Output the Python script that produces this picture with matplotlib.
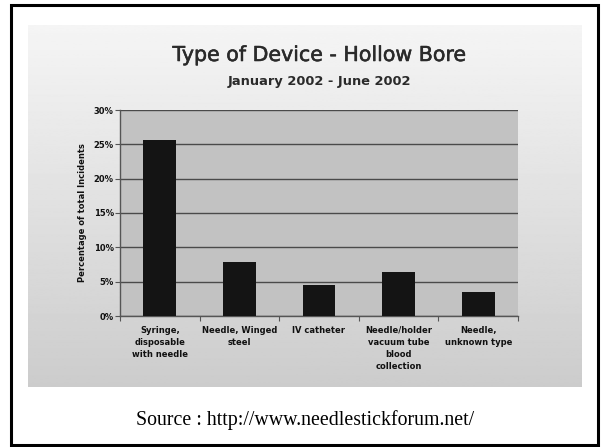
import numpy as np
import matplotlib
matplotlib.use("Agg")
import matplotlib.pyplot as plt
import matplotlib.patheffects as pe
from matplotlib.patches import Rectangle
from matplotlib.ticker import FixedLocator, FuncFormatter

categories = ["Syringe,\ndisposable\nwith needle", "Needle, Winged\nsteel", "IV catheter",
              "Needle/holder\nvacuum tube\nblood\ncollection", "Needle,\nunknown type"]
values = [25.7, 7.9, 4.5, 6.45, 3.45]
yticks = [0, 5, 10, 15, 20, 25, 30]

title = "Type of Device - Hollow Bore"
subtitle = "January 2002 - June 2002"
ylabel = "Percentage of total Incidents"
source = "Source : http://www.needlestickforum.net/"

plt.rcParams['font.family'] = ['DejaVu Sans']

W, H = 603, 447
fig = plt.figure(figsize=(W / 100, H / 100), dpi=100)
fig.patch.set_facecolor("white")

# gradient panel
px0, py0, px1, py1 = 28, 25, 582, 387
bg = fig.add_axes([px0 / W, 1 - py1 / H, (px1 - px0) / W, (py1 - py0) / H])
grad = np.linspace(0.96, 0.80, 256).reshape(-1, 1)
bg.imshow(grad, cmap="gray", vmin=0, vmax=1, aspect="auto", extent=[0, 1, 0, 1])
bg.set_axis_off()

# plot area
ax0, ay0, ax1, ay1 = 120, 110, 518, 316
ax = fig.add_axes([ax0 / W, 1 - ay1 / H, (ax1 - ax0) / W, (ay1 - ay0) / H])
ax.set_facecolor("#c2c2c2")
x = np.arange(len(categories))
ax.bar(x, values, width=0.41, color="#141414", zorder=3)
ax.set_xlim(-0.5, len(categories) - 0.5)
ax.set_ylim(0, 30)
ax.set_yticks(yticks)
ax.yaxis.set_major_formatter(FuncFormatter(lambda v, p: f"{int(v)}%"))
ax.grid(axis="y", color="#4a4a4a", linewidth=1.0, zorder=1)
ax.set_axisbelow(True)
for s in ["top", "right"]:
    ax.spines[s].set_visible(False)
for s in ["left", "bottom"]:
    ax.spines[s].set_color("#555555")
    ax.spines[s].set_linewidth(1.0)

ax.set_xticks(x)
ax.set_xticklabels(categories, fontsize=6.0, fontweight="bold", linespacing=1.45,
                   color="#111111")
ax.tick_params(axis="x", which="major", length=0, pad=7)
ax.xaxis.set_minor_locator(FixedLocator(np.arange(-0.5, len(categories), 1.0)))
ax.tick_params(axis="x", which="minor", length=3.5, color="#555555", width=0.8)
ax.tick_params(axis="y", length=3.5, color="#555555", width=0.8, pad=1,
               labelsize=6.0)
for lab in ax.get_yticklabels():
    lab.set_fontweight("bold")
    lab.set_color("#111111")
ax.set_ylabel(ylabel, fontsize=6.0, fontweight="bold", color="#111111", labelpad=5)

cx = 0.5 * (ax0 + ax1) / W
fig.text(cx, 1 - 61 / H, title, ha="center", va="baseline",
         fontsize=14.8, color="#2a2a2a",
         path_effects=[pe.withStroke(linewidth=0.4, foreground="#2a2a2a")])
fig.text(cx, 1 - 85 / H, subtitle, ha="center", va="baseline",
         fontsize=9.4, fontweight="bold", color="#2a2a2a")
fig.text(305 / W, 1 - 425.5 / H, source, ha="center", va="baseline",
         fontsize=14.3, family="Liberation Serif", color="black")

# outer border
fig.patches.append(Rectangle((10.5 / W, 1 - 445 / H), (598 - 10.5) / W, (445 - 4.5) / H,
                             transform=fig.transFigure, fill=False,
                             edgecolor="black", linewidth=2.2))

fig.savefig("out.png", dpi=100)
